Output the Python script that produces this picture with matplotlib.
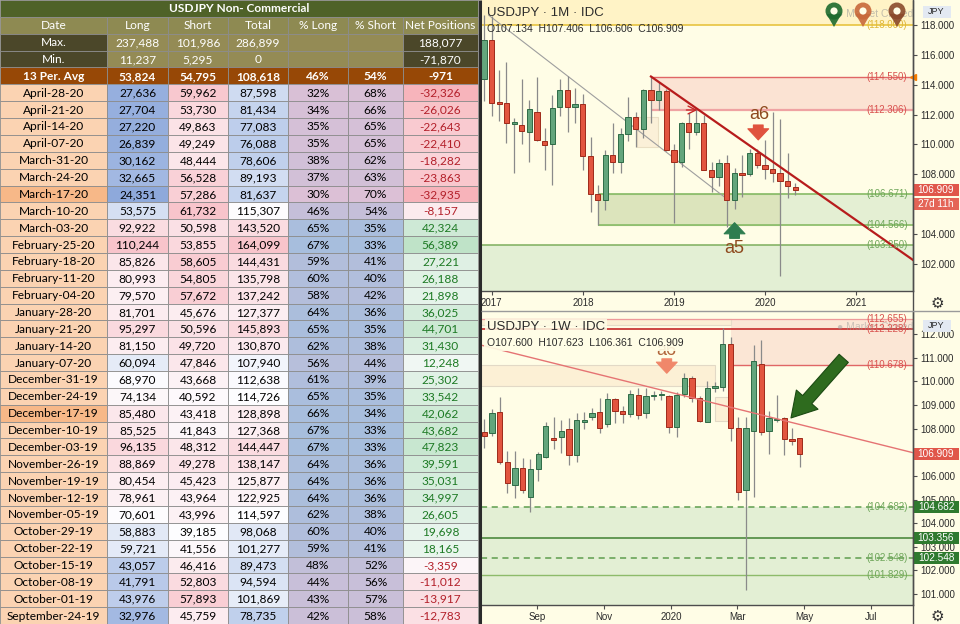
import numpy as np
import pandas as pd
import matplotlib

matplotlib.use("Agg")
import matplotlib.pyplot as plt
import matplotlib.dates as mdates
from matplotlib.patches import Rectangle, Circle, Polygon
from matplotlib.transforms import blended_transform_factory as blend

OUT = "out.png"
W, H = 960, 624
BG = "#FFFDE6"
INK = "#2B2B2B"
UP, UP_EDGE = "#63A57C", "#2E6B46"
DN, DN_EDGE = "#E2553F", "#9E2A1A"
WICK = "#8A8A8A"
RED_LBL, GRN_LBL = "#D9534F", "#6FA65A"
CHART_FONT = "Liberation Sans"
TABLE_FONT = "Lato"

# ---------------- COT table ----------------
TITLE = "USDJPY Non- Commercial"
HEADERS = ["Date", "Long", "Short", "Total", "% Long", "% Short", "Net Positions"]
MAX_VALS = [237488, 101986, 286899, 188077]
MIN_VALS = [11237, 5295, 0, -71870]
AVG_VALS = [53824, 54795, 108618, 46, 54, -971]

DATES = ["April-28-20", "April-21-20", "April-14-20", "April-07-20", "March-31-20",
         "March-24-20", "March-17-20", "March-10-20", "March-03-20", "February-25-20",
         "February-18-20", "February-11-20", "February-04-20", "January-28-20",
         "January-21-20", "January-14-20", "January-07-20", "December-31-19",
         "December-24-19", "December-17-19", "December-10-19", "December-03-19",
         "November-26-19", "November-19-19", "November-12-19", "November-05-19",
         "October-29-19", "October-22-19", "October-15-19", "October-08-19",
         "October-01-19", "September-24-19"]
LONG = [27636, 27704, 27220, 26839, 30162, 32665, 24351, 53575, 92922, 110244,
        85826, 80993, 79570, 81701, 95297, 81150, 60094, 68970, 74134, 85480,
        85525, 96135, 88869, 80454, 78961, 70601, 58883, 59721, 43057, 41791,
        43976, 32976]
SHORT = [59962, 53730, 49863, 49249, 48444, 56528, 57286, 61732, 50598, 53855,
         58605, 54805, 57672, 45676, 50596, 49720, 47846, 43668, 40592, 43418,
         41843, 48312, 49278, 45423, 43964, 43996, 39185, 41556, 46416, 52803,
         57893, 45759]
TOTAL = [87598, 81434, 77083, 76088, 78606, 89193, 81637, 115307, 143520, 164099,
         144431, 135798, 137242, 127377, 145893, 130870, 107940, 112638, 114726,
         128898, 127368, 144447, 138147, 125877, 122925, 114597, 98068, 101277,
         89473, 94594, 101869, 78735]
PCT_LONG = [32, 34, 35, 35, 38, 37, 30, 46, 65, 67, 59, 60, 58, 64, 65, 62, 56, 61,
            65, 66, 67, 67, 64, 64, 64, 62, 60, 59, 48, 44, 43, 42]
PCT_SHORT = [68, 66, 65, 65, 62, 63, 70, 54, 35, 33, 41, 40, 42, 36, 35, 38, 44, 39,
             35, 34, 33, 33, 36, 36, 36, 38, 40, 41, 52, 56, 57, 58]
NET = [-32326, -26026, -22643, -22410, -18282, -23863, -32935, -8157, 42324, 56389,
       27221, 26188, 21898, 36025, 44701, 31430, 12248, 25302, 33542, 42062, 43682,
       47823, 39591, 35031, 34997, 26605, 19698, 18165, -3359, -11012, -13917, -12783]
HILITE_DATES = ["March-17-20", "December-17-19"]

# ---------------- monthly USDJPY (Dec 2016 .. May 2020) ----------------
M_START = "2016-12-01"
M_OPEN = [114.4, 117.0, 112.8, 112.75, 111.4, 111.3, 110.85, 112.2, 110.25, 110.0,
          112.5, 113.65, 112.5, 112.7, 109.2, 106.7, 106.3, 109.3, 108.8, 110.7,
          111.85, 111.0, 113.65, 112.95, 113.55, 109.65, 108.85, 111.4, 110.85,
          111.45, 108.3, 107.8, 108.75, 106.3, 108.05, 108.0, 109.45, 108.6, 108.35,
          108.05, 107.55, 107.134]
M_HIGH = [118.66, 118.6, 115.0, 115.5, 111.8, 114.4, 113.0, 114.5, 111.1, 113.3,
          114.4, 114.6, 113.8, 113.4, 110.5, 107.3, 109.6, 111.4, 111.1, 113.2,
          112.2, 113.7, 114.55, 114.2, 113.7, 110.0, 111.5, 112.1, 112.4, 112.0,
          108.8, 109.0, 109.3, 108.45, 109.3, 109.7, 109.7, 110.3, 112.2, 111.7,
          109.4, 107.406]
M_LOW = [112.9, 111.9, 111.6, 110.1, 108.1, 110.0, 108.8, 110.2, 108.3, 107.3,
         111.9, 110.8, 111.4, 108.3, 105.5, 104.6, 105.6, 108.1, 108.1, 110.2,
         109.8, 110.4, 111.4, 112.3, 109.55, 104.7, 108.5, 109.7, 110.6, 108.3,
         106.8, 107.2, 104.45, 105.7, 106.5, 107.9, 108.4, 107.65, 107.5, 101.2,
         106.4, 106.606]
M_CLOSE = [117.0, 112.8, 112.75, 111.4, 111.5, 110.9, 112.35, 110.3, 109.95, 112.45,
           113.65, 112.5, 112.7, 109.2, 106.7, 106.3, 109.3, 108.8, 110.7, 111.85,
           111.0, 113.65, 112.95, 113.55, 109.65, 108.85, 111.4, 110.85, 111.45,
           108.3, 107.8, 108.75, 106.3, 108.05, 108.0, 109.45, 108.6, 108.35, 108.1,
           107.55, 107.2, 106.909]

# ---------------- weekly USDJPY (15 Jul 2019 .. 27 Apr 2020) ----------------
W_START = "2019-07-15"
W_OPEN = [107.87, 107.8, 108.69, 106.6, 105.6, 106.32, 105.1, 106.29, 106.81, 107.62,
          107.63, 108.0, 106.88, 108.26, 108.5, 108.72, 108.18, 109.25, 108.74, 108.6,
          109.42, 108.65, 109.37, 109.43, 109.38, 108.08, 109.45, 110.15, 109.28,
          108.29, 109.73, 109.77, 111.56, 108.04, 105.4, 107.9, 110.72, 107.9, 108.37,
          108.45, 107.55, 107.6]
W_HIGH = [108.41, 108.83, 109.35, 107.05, 107.05, 106.74, 106.7, 107.02, 108.26, 108.5,
          108.36, 108.46, 108.65, 108.72, 108.89, 109.28, 109.5, 109.28, 108.97, 109.63,
          109.7, 109.72, 109.6, 109.6, 109.42, 109.53, 110.33, 110.24, 109.39, 110.0,
          109.96, 112.27, 111.89, 108.5, 108.5, 111.54, 111.75, 108.74, 109.42, 108.5,
          108.04, 107.623]
W_LOW = [107.2, 107.7, 106.5, 105.27, 105.06, 105.27, 104.46, 105.78, 106.77, 107.14,
         106.95, 106.48, 106.6, 108.0, 108.36, 107.8, 108.08, 108.22, 108.25, 108.5,
         108.41, 108.45, 109.2, 109.2, 107.83, 107.66, 109.35, 109.14, 108.29, 108.27,
         109.56, 109.59, 107.48, 104.98, 101.16, 105.12, 107.73, 106.93, 108.26, 106.9,
         107.3, 106.361]
W_CLOSE = [107.7, 108.65, 106.6, 105.69, 106.35, 105.41, 106.3, 106.91, 108.12, 107.5,
           107.9, 106.88, 108.36, 108.36, 108.67, 108.04, 109.24, 108.74, 108.63, 109.45,
           108.57, 109.39, 109.42, 109.45, 108.08, 109.42, 110.15, 109.28, 108.32,
           109.73, 109.77, 111.56, 108.04, 105.33, 108.01, 110.86, 107.87, 108.45, 108.4,
           107.55, 107.47, 106.909]

LAST = 106.909


def d(s):
    return mdates.date2num(pd.Timestamp(s).to_pydatetime())


def mix(c1, c2, t):
    a = np.array(matplotlib.colors.to_rgb(c1))
    b = np.array(matplotlib.colors.to_rgb(c2))
    t = float(np.clip(t, 0, 1))
    return tuple(a + (b - a) * t)


def scale3(v, vals, lo, mid, hi, centre=None):
    vals = np.asarray(vals, float)
    c = np.median(vals) if centre is None else centre
    if v <= c:
        return mix(lo, mid, (v - vals.min()) / (c - vals.min()))
    return mix(mid, hi, (v - c) / (vals.max() - c))


def draw_candles(ax, x, o, h, l, c, width, min_body):
    for xi, oi, hi, li, ci in zip(x, o, h, l, c):
        up = ci >= oi
        ax.vlines(xi, li, hi, color=WICK, lw=0.9, zorder=3)
        ht = max(abs(ci - oi), min_body)
        lo = min(oi, ci) if abs(ci - oi) >= min_body else (oi + ci) / 2 - ht / 2
        ax.add_patch(Rectangle((xi - width / 2, lo), width, ht,
                               facecolor=UP if up else DN,
                               edgecolor=UP_EDGE if up else DN_EDGE,
                               lw=0.7, zorder=4))


def line_label(ax, price, text, color):
    ax.text(0.94, price, text, transform=blend(ax.transAxes, ax.transData),
            ha="center", va="center", fontsize=7, color=color, zorder=6,
            family=CHART_FONT)


def axis_box(ax, price, text, color, ppu, dy_px=0.0, h_px=12.0):
    tr = blend(ax.transAxes, ax.transData)
    ctr = price - dy_px / ppu
    ax.add_patch(Rectangle((1.0, ctr - h_px / 2 / ppu), 46 / 432, h_px / ppu,
                           transform=tr, facecolor=color, edgecolor="none",
                           clip_on=False, zorder=8))
    ax.text(1.0 + 23 / 432, ctr, text, transform=tr, ha="center", va="center",
            fontsize=7.2, color="white", clip_on=False, zorder=9, family=CHART_FONT)


def jpy_box(ax, top_px, axh_px):
    y0 = 1 - (top_px + 12) / axh_px
    ax.add_patch(Rectangle((1.022, y0), 28 / 432, 12 / axh_px, transform=ax.transAxes,
                           facecolor="#E3E9F2", edgecolor="none", clip_on=False,
                           zorder=8))
    ax.text(1.022 + 14 / 432, y0 + 6 / axh_px, "JPY", transform=ax.transAxes,
            ha="center", va="center", fontsize=6.5, color=INK, clip_on=False,
            zorder=9, family=CHART_FONT)


def style_chart(ax, ylim, ticks, xt, xl):
    ax.set_facecolor(BG)
    ax.set_ylim(*ylim)
    for s in ("top", "left"):
        ax.spines[s].set_visible(False)
    for s in ("right", "bottom"):
        ax.spines[s].set_color("#4D4D4D")
        ax.spines[s].set_linewidth(1.0)
    ax.yaxis.tick_right()
    ax.set_yticks(ticks)
    ax.set_yticklabels([f"{t:.3f}" for t in ticks])
    ax.set_xticks(xt)
    ax.set_xticklabels(xl)
    ax.tick_params(axis="both", colors="#4D4D4D", labelcolor=INK, labelsize=7,
                   length=3, width=0.8, pad=2)
    for t in ax.get_xticklabels() + ax.get_yticklabels():
        t.set_family(CHART_FONT)


def block_arrow(ax, tail, tip, color, ms=10, hw=1.5, tw=0.7, hl=0.8, ec=None, z=7):
    ax.annotate("", xy=tip, xytext=tail,
                arrowprops=dict(arrowstyle=f"simple,head_length={hl},head_width={hw},"
                                           f"tail_width={tw}",
                                mutation_scale=ms, facecolor=color,
                                edgecolor=ec or color, lw=0.8,
                                shrinkA=0, shrinkB=0), zorder=z)


def main():
    plt.rcParams["font.family"] = [CHART_FONT, "DejaVu Sans"]
    fig = plt.figure(figsize=(W / 100, H / 100), dpi=100, facecolor=BG)

    # ---------- table ----------
    ax_t = fig.add_axes([0, 0, 480 / W, 1])
    ax_t.set_xlim(0, 480)
    ax_t.set_ylim(H, 0)
    ax_t.axis("off")
    cols = [0, 107, 168, 228, 288, 348, 403, 478]
    rh = H / 37

    def cell(ci, ri, text, fc, tc="#000000", bold=False, span=False, fs=8.6):
        x0 = cols[ci]
        x1 = cols[-1] if span else cols[ci + 1]
        y0 = ri * rh
        ax_t.add_patch(Rectangle((x0, y0), x1 - x0, rh, facecolor=fc,
                                 edgecolor="#8C8C8C", lw=0.6))
        ax_t.text((x0 + x1) / 2, y0 + rh / 2 + 0.5, text, ha="center", va="center",
                  fontsize=fs, color=tc, fontweight="bold" if bold else "normal",
                  family=TABLE_FONT)

    fmt = lambda v: f"{v:,}"
    cell(0, 0, TITLE, "#4F6228", "white", bold=True, span=True)
    for ci, h in enumerate(HEADERS):
        cell(ci, 1, h, "#8E8A52", "white")
    for ri, (lab, vals) in enumerate([("Max.", MAX_VALS), ("Min.", MIN_VALS)], start=2):
        cell(0, ri, lab, "#4B4729", "white")
        for ci in range(3):
            cell(ci + 1, ri, fmt(vals[ci]), "#948B55", "white")
        cell(4, ri, "", "#948B55")
        cell(5, ri, "", "#948B55")
        cell(6, ri, fmt(vals[3]), "#4B4729", "white")
    avg_txt = ["13 Per. Avg", fmt(AVG_VALS[0]), fmt(AVG_VALS[1]), fmt(AVG_VALS[2]),
               f"{AVG_VALS[3]}%", f"{AVG_VALS[4]}%", fmt(AVG_VALS[5])]
    for ci, t in enumerate(avg_txt):
        cell(ci, 4, t, "#974806", "white", bold=True)

    BLUE, WHITE, PINK = "#8EA9DB", "#FDFDFF", "#F8C4CB"
    MAUVE, PBLUE = "#DCC0D6", "#A7BEDD"
    for i in range(len(DATES)):
        ri = 5 + i
        dfc = "#F7B888" if DATES[i] in HILITE_DATES else "#FBD3B2"
        cell(0, ri, DATES[i], dfc)
        cell(1, ri, fmt(LONG[i]), scale3(LONG[i], LONG, BLUE, WHITE, PINK))
        smin, smax = min(SHORT), max(SHORT)
        cell(2, ri, fmt(SHORT[i]), mix(WHITE, PINK, (SHORT[i] - smin) / (smax - smin)))
        cell(3, ri, fmt(TOTAL[i]), scale3(TOTAL[i], TOTAL, "#BCCDEB", WHITE, PINK))
        lmin, lmax = min(PCT_LONG), max(PCT_LONG)
        tl = (PCT_LONG[i] - lmin) / (lmax - lmin)
        cell(4, ri, f"{PCT_LONG[i]}%", mix(MAUVE, PBLUE, tl))
        cell(5, ri, f"{PCT_SHORT[i]}%", mix(MAUVE, PBLUE, tl))
        ncol = scale3(NET[i], NET, "#F7B3BA", WHITE, "#BFE3C8", centre=0)
        cell(6, ri, fmt(NET[i]), ncol, "#B3202A" if NET[i] < 0 else "#1D7A24")

    # ---------- monthly chart ----------
    ax_m = fig.add_axes([481 / W, 1 - 291 / H, 432 / W, 291 / H])
    m_ylim = (100.17, 119.68)
    m_xlim = (d("2016-11-19"), d("2021-08-16"))
    style_chart(ax_m, m_ylim, np.arange(102, 119, 2),
                [d(f"{y}-01-01") for y in range(2017, 2022)],
                [str(y) for y in range(2017, 2022)])
    ax_m.set_xlim(*m_xlim)
    m_ppu = 291 / (m_ylim[1] - m_ylim[0])
    mx = mdates.date2num(pd.date_range(M_START, periods=len(M_OPEN), freq="MS")
                         .to_pydatetime())
    x0, x1 = m_xlim

    # zones and levels
    ax_m.add_patch(Rectangle((x0, 118.0), x1 - x0, m_ylim[1] - 118.0,
                             facecolor="#FFF3C6", edgecolor="none", zorder=0.5))
    ax_m.axhline(118.0, color="#E8C440", lw=1.2, zorder=2)
    ax_m.add_patch(Rectangle((d("2018-10-01"), 112.306), x1 - d("2018-10-01"),
                             114.55 - 112.306, facecolor="#FBE3D3", edgecolor="none",
                             zorder=0.6))
    ax_m.hlines(114.55, d("2018-10-01"), x1, color="#E06666", lw=1.0, zorder=2)
    ax_m.hlines(112.306, d("2018-10-01"), x1, color="#EFA3A3", lw=1.6, zorder=2)
    ax_m.add_patch(Rectangle((d("2018-03-01"), 104.566), x1 - d("2018-03-01"),
                             106.671 - 104.566, facecolor="#E4EFD3", edgecolor="none",
                             zorder=0.6))
    ax_m.add_patch(Rectangle((d("2018-03-01"), 104.566),
                             d("2020-03-01") - d("2018-03-01"), 106.671 - 104.566,
                             facecolor="#DCE4BC", edgecolor="#A9C58C", lw=0.8,
                             zorder=0.7))
    ax_m.hlines([106.671, 104.566], d("2018-03-01"), x1, color="#8FBF6E", lw=1.3,
                zorder=2)
    ax_m.add_patch(Rectangle((x0, m_ylim[0]), x1 - x0, 103.25 - m_ylim[0],
                             facecolor="#E3EFD4", edgecolor="none", zorder=0.6))
    ax_m.axhline(103.25, color="#7DAE5C", lw=1.1, zorder=2)
    ax_m.add_patch(Rectangle((d("2018-08-05"), 109.84), d("2018-10-30") - d("2018-08-05"),
                             111.85 - 109.84, facecolor="#FBF0D8", edgecolor="#EADFC4",
                             lw=0.8, zorder=0.8))
    ax_m.plot([d("2016-12-20"), d("2019-07-21")], [118.66, 106.49], color="#9E9E9E",
              lw=0.8, zorder=2.5)
    ax_m.plot([d("2018-10-01"), x1], [114.55, 102.25], color="#B71C1C", lw=1.6,
              zorder=5)
    ax_m.annotate("", xy=(d("2019-04-05"), 112.306), xytext=(d("2019-02-20"), 112.306),
                  arrowprops=dict(arrowstyle="->", color="#C62828", lw=1.0,
                                  mutation_scale=14, shrinkA=0, shrinkB=0), zorder=5)

    draw_candles(ax_m, mx, M_OPEN, M_HIGH, M_LOW, M_CLOSE, 21, 1.6 / m_ppu)

    for p, t, c in [(118.0, "(118.000)", "#E0B83A"), (114.55, "(114.550)", RED_LBL),
                    (112.306, "(112.306)", RED_LBL), (106.671, "(106.671)", GRN_LBL),
                    (104.566, "(104.566)", GRN_LBL), (103.25, "(103.250)", GRN_LBL)]:
        line_label(ax_m, p, t, c)

    ax_m.text(d("2019-12-10"), 111.97, "a6", ha="center", va="center", fontsize=13,
              color="#8E4A1E", zorder=7)
    block_arrow(ax_m, (d("2019-12-05"), 111.3), (d("2019-12-05"), 110.3), "#E0533E")
    block_arrow(ax_m, (d("2019-09-01"), 103.7), (d("2019-09-01"), 104.75), "#2E7D4F")
    ax_m.text(d("2019-09-01"), 102.99, "a5", ha="center", va="center", fontsize=13,
              color="#8E4A1E", zorder=7)

    ax_m.text(0.014, 0.955, "USDJPY · 1M · IDC", transform=ax_m.transAxes, fontsize=9.5,
              color=INK, va="center", zorder=9)
    ax_m.text(0.014, 0.90, "O107.134  H107.406  L106.606  C106.909",
              transform=ax_m.transAxes, fontsize=7.5, color=INK, va="center", zorder=9)
    ax_m.text(0.825, 0.952, "● Market Closed", transform=ax_m.transAxes, fontsize=7.5,
              color="#9A9A9A", alpha=0.6, va="center", zorder=6)

    jpy_box(ax_m, 6, 291)
    axis_box(ax_m, LAST, "106.909", "#E0564A", m_ppu)
    axis_box(ax_m, LAST, "27d 11h", "#E46457", m_ppu, dy_px=14)
    ax_m.plot([1.0], [114.55], marker="<", ms=5, color="#F57C00",
              transform=blend(ax_m.transAxes, ax_m.transData), clip_on=False, zorder=9)

    # ---------- weekly chart ----------
    ax_w = fig.add_axes([481 / W, 1 - 605 / H, 432 / W, 293 / H])
    w_ylim = (100.54, 112.93)
    w_xlim = (d("2019-07-12"), d("2020-08-08"))
    style_chart(ax_w, w_ylim, [101, 102, 103, 104, 105, 106, 108, 109, 110, 111, 112],
                [d("2019-09-01"), d("2019-11-01"), d("2020-01-01"), d("2020-03-01"),
                 d("2020-05-01"), d("2020-07-01")],
                ["Sep", "Nov", "2020", "Mar", "May", "Jul"])
    ax_w.set_xlim(*w_xlim)
    w_ppu = 293 / (w_ylim[1] - w_ylim[0])
    wx = mdates.date2num(pd.date_range(W_START, periods=len(W_OPEN), freq="W-MON")
                         .to_pydatetime())
    x0, x1 = w_xlim

    ax_w.add_patch(Rectangle((d("2020-02-24"), 110.678), x1 - d("2020-02-24"),
                             112.655 - 110.678, facecolor="#FBE6D5", edgecolor="none",
                             zorder=0.6))
    ax_w.add_patch(Rectangle((x0, 112.38), d("2020-02-24") - x0, 112.655 - 112.38,
                             facecolor="#FCF0D5", edgecolor="#E6DCC8", lw=0.8,
                             zorder=0.6))
    ax_w.add_patch(Rectangle((x0, 109.8), d("2020-02-10") - x0, 110.69 - 109.8,
                             facecolor="#FCF0D5", edgecolor="#E2D9C6", lw=0.8,
                             zorder=0.6))
    ax_w.add_patch(Rectangle((d("2020-02-10"), 108.3), d("2020-02-24") - d("2020-02-10"),
                             109.34 - 108.3, facecolor="#FCF0D5", edgecolor="#E2D9C6",
                             lw=0.8, zorder=0.6))
    ax_w.axhline(112.655, color="#EE9A9A", lw=0.9, zorder=2)
    ax_w.axhline(112.228, color="#C62828", lw=1.2, zorder=2)
    ax_w.hlines(110.678, d("2020-02-24"), x1, color="#E06666", lw=1.0, zorder=2)
    ax_w.add_patch(Rectangle((x0, w_ylim[0]), x1 - x0, 104.682 - w_ylim[0],
                             facecolor="#E3EFD4", edgecolor="none", zorder=0.6))
    ax_w.axhline(104.682, color="#5E9E4E", lw=1.1, ls=(0, (4, 3)), zorder=2)
    ax_w.axhline(103.356, color="#4E8A3E", lw=1.2, zorder=2)
    ax_w.axhline(102.548, color="#5E9E4E", lw=1.1, ls=(0, (4, 3)), zorder=2)
    ax_w.axhline(101.829, color="#8DBB6A", lw=1.0, zorder=2)
    ax_w.plot([x0, x1], [111.53, 106.98], color="#E57373", lw=1.0, zorder=5)

    draw_candles(ax_w, wx, W_OPEN, W_HIGH, W_LOW, W_CLOSE, 4.8, 1.6 / w_ppu)

    for p, t, c in [(112.655, "(112.655)", RED_LBL), (112.228, "(112.228)", RED_LBL),
                    (110.678, "(110.678)", RED_LBL), (104.682, "(104.682)", GRN_LBL),
                    (102.548, "(102.548)", GRN_LBL), (101.829, "(101.829)", GRN_LBL)]:
        line_label(ax_w, p, t, c)
    ax_w.text(0.825, 0.949, "● Market Closed", transform=ax_w.transAxes, fontsize=7.5,
              color="#9A9A9A", alpha=0.5, va="center", zorder=5)

    block_arrow(ax_w, (d("2019-12-28"), 110.95), (d("2019-12-28"), 110.34), "#F0876A")
    ax_w.text(d("2019-12-28"), 111.30, "a6", ha="center", va="center", fontsize=13,
              color="#B0653A", zorder=6)
    block_arrow(ax_w, (d("2020-06-06"), 110.97), (d("2020-04-19"), 108.45), "#2E6B1E",
                ms=16, hw=1.3, tw=0.55, hl=1.1, ec="#1B4A12")

    ax_w.text(0.014, 0.949, "USDJPY · 1W · IDC", transform=ax_w.transAxes, fontsize=9.5,
              color=INK, va="center", zorder=9,
              bbox=dict(facecolor=BG, edgecolor="none", alpha=0.85, pad=1.5))
    ax_w.text(0.014, 0.894, "O107.600  H107.623  L106.361  C106.909",
              transform=ax_w.transAxes, fontsize=7.5, color=INK, va="center", zorder=9,
              bbox=dict(facecolor=BG, edgecolor="none", alpha=0.9, pad=2.5))

    jpy_box(ax_w, 320 - 312, 293)
    axis_box(ax_w, LAST, "106.909", "#E0564A", w_ppu)
    for p in (104.682, 103.356, 102.548):
        axis_box(ax_w, p, f"{p:.3f}", "#2F7A2F", w_ppu)

    # ---------- overlay: frame, pins, gear icons ----------
    ax_o = fig.add_axes([0, 0, 1, 1])
    ax_o.set_xlim(0, W)
    ax_o.set_ylim(H, 0)
    ax_o.axis("off")
    ax_o.patch.set_alpha(0)
    ax_o.vlines(479.5, 0, H, color="#2B2B2B", lw=2.2)
    ax_o.vlines(913, 0, H, color="#4D4D4D", lw=1.0)
    ax_o.hlines(311, 481, W, color="#9A9A9A", lw=1.0)
    for xc, col in [(834, "#1E6B2E"), (863, "#C8693A"), (897, "#8B4A2B")]:
        ax_o.add_patch(Polygon([(xc - 7.5, 14), (xc + 7.5, 14), (xc, 27)], closed=True,
                               facecolor=col, edgecolor="none", alpha=0.9))
        ax_o.add_patch(Circle((xc, 11), 8.5, facecolor=col, edgecolor="none", alpha=0.9))
        ax_o.add_patch(Circle((xc, 11), 3.6, facecolor="#FFFDE6", edgecolor="none"))
    for yc in (303, 616):
        ax_o.text(937, yc, "⚙", ha="center", va="center", fontsize=11, color="#333333",
                  family="DejaVu Sans")

    fig.savefig(OUT, dpi=100, facecolor=BG)


if __name__ == "__main__":
    main()
